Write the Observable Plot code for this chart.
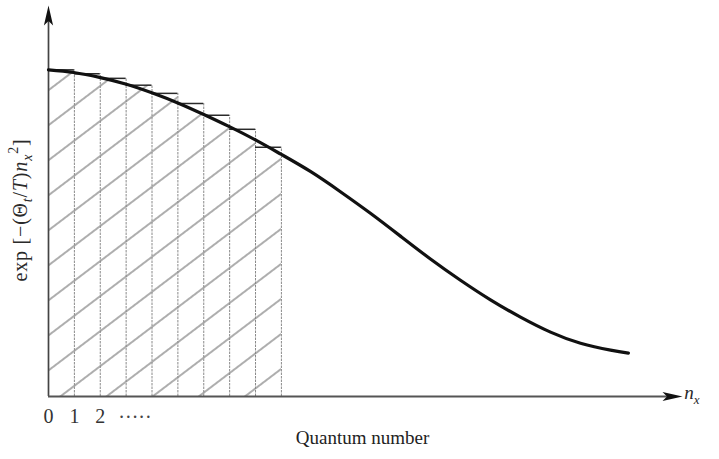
<!DOCTYPE html>
<html>
<head>
<meta charset="utf-8">
<script src="https://cdn.jsdelivr.net/npm/d3@7"></script>
<script src="https://cdn.jsdelivr.net/npm/@observablehq/plot@0.6"></script>
<style>
  html, body { margin: 0; padding: 0; background: #fff; }
  #chart svg { display: block; }
</style>
</head>
<body>
<div id="chart"></div>
<script>
// Heights of the rectangles (one per quantum number n = 0 … 8), relative to n = 0
const barValues = [1.0, 0.988, 0.974, 0.953, 0.928, 0.897, 0.861, 0.818, 0.763];

// Smooth curve exp[−(Θt/T) nx²] traced as (n, value) pairs
const curveN = [0, 0.97, 1.97, 3.01, 4.02, 5.02, 5.98, 6.99, 8.03, 9.0, 10.12, 11.28, 12.44, 13.60, 14.76, 15.92, 17.08, 18.24, 19.40, 20.56, 21.72, 22.41];
const curveV = [1.0, 0.992, 0.977, 0.956, 0.929, 0.898, 0.864, 0.826, 0.784, 0.741, 0.689, 0.627, 0.561, 0.491, 0.421, 0.356, 0.296, 0.243, 0.197, 0.163, 0.142, 0.133];

// Tick labels under the horizontal axis
const tickLabels = ["0", "1", "2"];
const tickEllipsis = ["·····"];

const curve = curveN.map((n, i) => ({n, v: curveV[i]}));
const bars = barValues.map((v, i) => ({n: i, v}));
const edges = barValues.map((v, i) => ({n: i + 1, v}));

const serif = "'Liberation Serif', 'DejaVu Serif', serif";
const xMax = 24.5, yMax = 1.197;

// Filled dart-shaped arrowheads, tip at the anchor point
const arrowUp = {draw(ctx) { ctx.moveTo(0, 0); ctx.lineTo(4.6, 20); ctx.lineTo(0, 15.5); ctx.lineTo(-4.6, 20); ctx.closePath(); }};
const arrowRight = {draw(ctx) { ctx.moveTo(0, 0); ctx.lineTo(-20, 4.6); ctx.lineTo(-15.5, 0); ctx.lineTo(-20, -4.6); ctx.closePath(); }};

const plot = Plot.plot({
  width: 719,
  height: 459,
  marginLeft: 48,
  marginRight: 37,
  marginTop: 5,
  marginBottom: 63,
  x: {domain: [0, xMax], axis: null},
  y: {domain: [0, yMax], axis: null},
  style: {fontFamily: serif, background: "#fff", color: "#222"},
  marks: [
    // hatched rectangles
    Plot.rectY(bars, {x1: "n", x2: d => d.n + 1, y: "v", fill: "url(#hatch)", inset: 0}),
    // vertical edges between rectangles
    Plot.ruleX(edges, {x: "n", y1: 0, y2: "v", stroke: "#8a8a8a", strokeWidth: 1, strokeDasharray: "2.5,1"}),
    // rectangle tops
    Plot.ruleY(bars, {y: "v", x1: "n", x2: d => d.n + 1, stroke: "#2a2a2a", strokeWidth: 1.5}),
    // axes
    Plot.ruleX([0], {y1: 0, y2: yMax - 0.03, stroke: "#444", strokeWidth: 1.7}),
    Plot.ruleY([0], {x1: 0, x2: xMax - 0.4, stroke: "#555", strokeWidth: 1.9}),
    Plot.dot([0], {x: 0, y: yMax, symbol: arrowUp, fill: "#111"}),
    Plot.dot([0], {x: xMax, y: 0, symbol: arrowRight, fill: "#111"}),
    // the curve
    Plot.line(curve, {x: "n", y: "v", curve: "natural", stroke: "#111", strokeWidth: 3.2}),
    // tick labels
    Plot.text(tickLabels, {x: (d, i) => i, y: 0, text: d => d, dy: 20, fontSize: 20, fill: "#333"}),
    Plot.text(tickEllipsis, {x: 2.7, y: 0, text: d => d, dy: 21, fontSize: 20, textAnchor: "start", fill: "#444", style: {letterSpacing: "1.3px"}}),
    // horizontal axis title
    Plot.text(["Quantum number"], {frameAnchor: "bottom", text: d => d, dy: 47, dx: -3, fontSize: 19, fill: "#222"})
  ]
});

// Diagonal hatch pattern used to fill the rectangles
const svg = d3.select(plot);
const pattern = svg.insert("defs", ":first-child").append("pattern")
  .attr("id", "hatch")
  .attr("patternUnits", "userSpaceOnUse")
  .attr("width", 10)
  .attr("height", 27.9)
  .attr("patternTransform", "translate(73,211.7) rotate(-37.2)");
pattern.append("rect").attr("x", 0).attr("y", -0.45).attr("width", 10).attr("height", 0.9).attr("fill", "#4a4a4a");
pattern.append("rect").attr("x", 0).attr("y", 27.45).attr("width", 10).attr("height", 0.9).attr("fill", "#4a4a4a");

// Vertical axis title with subscripts and superscript
const yl = svg.append("text")
  .attr("transform", "translate(27,210) rotate(-90)")
  .attr("text-anchor", "middle")
  .attr("font-family", serif)
  .attr("font-size", 20)
  .attr("letter-spacing", "0.8px")
  .attr("fill", "#2a2a2a");
yl.append("tspan").text("exp [−(Θ");
yl.append("tspan").attr("font-size", 14).attr("font-style", "italic").attr("dy", 5).text("t");
yl.append("tspan").attr("dy", -5).text("/");
yl.append("tspan").attr("font-style", "italic").text("T");
yl.append("tspan").text(")");
yl.append("tspan").attr("font-style", "italic").text("n");
yl.append("tspan").attr("font-size", 14).attr("font-style", "italic").attr("dy", 5).text("x");
yl.append("tspan").attr("font-size", 14).attr("dy", -14).text("2");
yl.append("tspan").attr("dy", 9).text("]");

// Label at the end of the horizontal axis
const nl = svg.append("text")
  .attr("x", 692).attr("y", 399)
  .attr("font-family", serif)
  .attr("font-size", 19)
  .attr("fill", "#2a2a2a");
nl.append("tspan").attr("font-style", "italic").text("n");
nl.append("tspan").attr("font-style", "italic").attr("font-size", 13).attr("dy", 5).text("x");

document.getElementById("chart").appendChild(plot);
</script>
</body>
</html>
